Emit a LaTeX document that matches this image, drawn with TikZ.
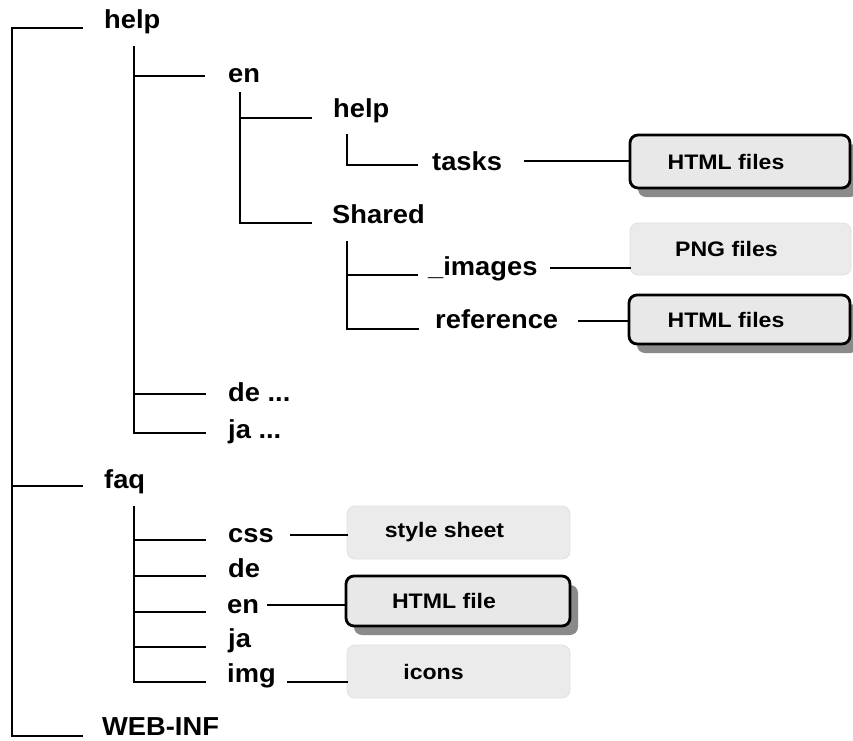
\documentclass[tikz,border=0pt]{standalone}
\usepackage{fontspec}
\setmainfont{Liberation Sans}[FakeStretch=1.05]
\newfontfamily\boxfont{Liberation Sans}[FakeStretch=1.1]
\usetikzlibrary{shadows}
\definecolor{boxgray}{HTML}{E8E8E8}
\definecolor{plaingray}{HTML}{EBEBEB}
\definecolor{plainedge}{HTML}{E0E0E0}
\definecolor{shadowgray}{HTML}{8A8A8A}
\newcommand\twig[4]{%
  \coordinate (#2-b) at ([shift={(-#3,#4)}]#2.base west);
  \draw[tree] (#2-b -| #1) -- (#2-b);}
\newcommand\feed[4]{%
  \coordinate (#1-s) at ([shift={(#3,#4)}]#1.base east);
  \draw[tree] (#1-s) -- (#1-s -| #2.west);}
\begin{document}
\begin{tikzpicture}[x=1pt,y=-1pt,
  lbl/.style={anchor=base west, inner sep=0pt, font=\fontsize{26}{30}\selectfont\bfseries},
  btxt/.style={inner sep=0pt, font=\boxfont\fontsize{21}{25}\selectfont\bfseries},
  tree/.style={line width=2.7pt, line cap=rect},
  filebox/.style={draw=black, line width=2.8pt, rounded corners=8pt, fill=boxgray,
    drop shadow={shadow xshift=8pt, shadow yshift=-9pt, fill=shadowgray, opacity=1}},
  plainbox/.style={draw=plainedge, line width=0.8pt, rounded corners=8pt, fill=plaingray}]
\useasboundingbox (0,0) rectangle (853,740);

% labels
\node[lbl] (help1) at (104,28) {help};
\node[lbl] (en1) at (228,82) {en};
\node[lbl] (help2) at (333,117) {help};
\node[lbl] (tasks) at (432,170) {tasks};
\node[lbl] (shared) at (332,223) {Shared};
\node[lbl] (images) at (428,275) {\_images};
\node[lbl] (reference) at (435,328) {reference};
\node[lbl] (de1) at (228,401) {de ...};
\node[lbl] (ja1) at (228,438) {ja ...};
\node[lbl] (faq) at (104,488) {faq};
\node[lbl] (css) at (228,542) {css};
\node[lbl] (de2) at (228,577) {de};
\node[lbl] (en2) at (227,613) {en};
\node[lbl] (ja2) at (228,647) {ja};
\node[lbl] (img) at (227,682) {img};
\node[lbl] (web) at (102,735) {WEB-INF};

% boxes
\node[filebox, minimum width=220pt, minimum height=53pt] (html1) at (740,161.5) {};
\node[plainbox, minimum width=221pt, minimum height=52pt] (png) at (740.5,249) {};
\node[filebox, minimum width=221pt, minimum height=49pt] (html2) at (739.5,319.5) {};
\node[plainbox, minimum width=223pt, minimum height=53pt] (style) at (458.5,532.5) {};
\node[filebox, minimum width=224pt, minimum height=50pt] (htmlfile) at (458,601) {};
\node[plainbox, minimum width=223pt, minimum height=53pt] (icons) at (458.5,671.5) {};
\node[btxt] at ([xshift=-14pt]html1.center) {HTML files};
\node[btxt] at ([xshift=-14pt]png.center) {PNG files};
\node[btxt] at ([xshift=-13.5pt]html2.center) {HTML files};
\node[btxt] at ([xshift=-14pt]style.center) {style sheet};
\node[btxt] at ([xshift=-14pt]htmlfile.center) {HTML file};
\node[btxt] at ([xshift=-25pt]icons.center) {icons};

% trunk tops
\coordinate (T0) at (12,28);
\coordinate (T1) at (134,47);
\coordinate (T2) at (240,93);
\coordinate (T3) at (347,135);
\coordinate (T4) at (347,242);
\coordinate (T5) at (134,507);

% branches
\twig{T0}{help1}{22}{0}
\twig{T0}{faq}{22}{-2}
\twig{T0}{web}{20}{1}
\twig{T1}{en1}{24}{-6}
\twig{T1}{de1}{23}{-7}
\twig{T1}{ja1}{23}{-5}
\twig{T2}{help2}{22}{1}
\twig{T2}{shared}{21}{0}
\twig{T3}{tasks}{15}{-5}
\twig{T4}{images}{11}{0}
\twig{T4}{reference}{17}{1}
\twig{T5}{css}{23}{-2}
\twig{T5}{de2}{23}{-1}
\twig{T5}{en2}{22}{-1}
\twig{T5}{ja2}{23}{0}
\twig{T5}{img}{22}{0}

% trunks
\draw[tree] (T0) |- (web-b);
\draw[tree] (T1) |- (ja1-b);
\draw[tree] (T2) |- (shared-b);
\draw[tree] (T3) |- (tasks-b);
\draw[tree] (T4) |- (reference-b);
\draw[tree] (T5) |- (img-b);

% feeds into boxes
\feed{tasks}{html1}{23}{-9}
\feed{images}{png}{14}{-7}
\feed{reference}{html2}{21}{-7}
\feed{css}{style}{17}{-7}
\feed{en2}{htmlfile}{9}{-8}
\feed{img}{icons}{12}{0}
\end{tikzpicture}
\end{document}
